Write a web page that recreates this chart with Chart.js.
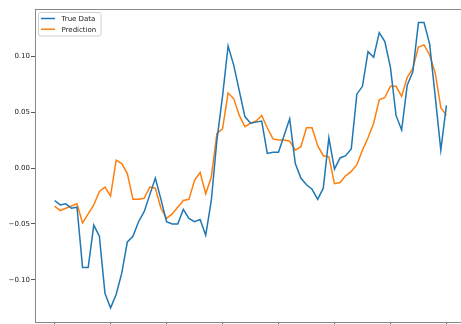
<!DOCTYPE html>
<html>
<head>
<meta charset="utf-8">
<script src="https://cdn.jsdelivr.net/npm/chart.js@4/dist/chart.umd.min.js"></script>
<style>
    html, body { margin: 0; padding: 0; background: #fff; overflow: hidden; }
    canvas { display: block; }
</style>
</head>
<body>
<canvas id="graficoPrediccion" width="467" height="324"></canvas>
<script>
// time step index (0..70)
const steps = Array.from({ length: 71 }, (_, i) => i);

// --- values ---
const trueData = [
    -0.029, -0.033, -0.032, -0.036, -0.035, -0.089, -0.089, -0.051, -0.061, -0.112,
    -0.125, -0.113, -0.094, -0.066, -0.061, -0.048, -0.039, -0.024, -0.009, -0.028,
    -0.048, -0.050, -0.050, -0.037, -0.045, -0.048, -0.046, -0.060, -0.029, 0.025,
    0.064, 0.109, 0.092, 0.069, 0.046, 0.040, 0.041, 0.042, 0.013, 0.014,
    0.014, 0.029, 0.044, 0.004, -0.009, -0.015, -0.019, -0.028, -0.018, 0.027,
    -0.001, 0.009, 0.011, 0.017, 0.066, 0.073, 0.104, 0.099, 0.121, 0.113,
    0.090, 0.047, 0.034, 0.074, 0.086, 0.130, 0.130, 0.111, 0.064, 0.016,
    0.056
];
const prediction = [
    -0.034, -0.038, -0.036, -0.034, -0.032, -0.049, -0.041, -0.033, -0.021, -0.017,
    -0.025, 0.007, 0.004, -0.005, -0.028, -0.028, -0.027, -0.017, -0.018, -0.036,
    -0.045, -0.041, -0.035, -0.029, -0.028, -0.011, -0.004, -0.023, -0.008, 0.031,
    0.035, 0.067, 0.062, 0.047, 0.037, 0.040, 0.042, 0.047, 0.036, 0.026,
    0.025, 0.025, 0.024, 0.016, 0.019, 0.036, 0.036, 0.020, 0.011, 0.010,
    -0.014, -0.013, -0.007, -0.003, 0.003, 0.016, 0.027, 0.040, 0.061, 0.063,
    0.073, 0.073, 0.064, 0.081, 0.089, 0.108, 0.110, 0.101, 0.085, 0.054,
    0.047
];
const seriesNames = ['True Data', 'Prediction'];
const xTicks = [0, 10, 20, 30, 40, 50, 60, 70];
const yTicks = [-0.10, -0.05, 0.00, 0.05, 0.10];

const FUENTE = 'DejaVu Sans';

// marco superior/derecho (estilo matplotlib)
const marcoPlugin = {
    id: 'marco',
    afterDraw(chart) {
        const { ctx, chartArea } = chart;
        ctx.save();
        ctx.strokeStyle = '#888';
        ctx.lineWidth = 1;
        ctx.beginPath();
        ctx.moveTo(chartArea.left, chartArea.top + 0.5);
        ctx.lineTo(chartArea.right, chartArea.top + 0.5);
        ctx.lineTo(chartArea.right, chartArea.bottom);
        ctx.stroke();
        ctx.restore();
    }
};

// leyenda dentro del área, arriba a la izquierda
const leyendaPlugin = {
    id: 'leyenda',
    afterDraw(chart) {
        const { ctx, chartArea } = chart;
        const x0 = chartArea.left + 3.5, y0 = chartArea.top + 3.5;
        const w = 62.5, h = 23.5;
        ctx.save();
        ctx.fillStyle = 'rgba(255,255,255,0.8)';
        ctx.strokeStyle = '#d0d0d0';
        ctx.lineWidth = 1;
        ctx.beginPath();
        ctx.roundRect(x0, y0, w, h, 2);
        ctx.fill();
        ctx.stroke();
        ctx.font = '7px "' + FUENTE + '"';
        ctx.textBaseline = 'middle';
        chart.data.datasets.forEach((ds, i) => {
            const yy = y0 + 6 + i * 10.7;
            ctx.strokeStyle = ds.borderColor;
            ctx.lineWidth = 1.5;
            ctx.beginPath();
            ctx.moveTo(x0 + 2.5, yy);
            ctx.lineTo(x0 + 16.5, yy);
            ctx.stroke();
            ctx.fillStyle = '#222';
            ctx.fillText(ds.label, x0 + 23, yy + 0.5);
        });
        ctx.restore();
    }
};

const ctx = document.getElementById('graficoPrediccion');
new Chart(ctx, {
    type: 'line',
    data: {
        datasets: [
            {
                label: seriesNames[0],
                data: steps.map((s, i) => ({ x: s, y: trueData[i] })),
                borderColor: '#1f77b4',
                borderWidth: 1.5,
                pointRadius: 0,
                tension: 0,
                fill: false
            },
            {
                label: seriesNames[1],
                data: steps.map((s, i) => ({ x: s, y: prediction[i] })),
                borderColor: '#ff7f0e',
                borderWidth: 1.5,
                pointRadius: 0,
                tension: 0,
                fill: false
            }
        ]
    },
    options: {
        responsive: false,
        animation: false,
        devicePixelRatio: 1,
        layout: { padding: { top: 9, left: 0, right: 1, bottom: 0 } },
        plugins: {
            legend: { display: false },
            tooltip: { enabled: false }
        },
        scales: {
            x: {
                type: 'linear',
                min: -3.5,
                max: 73.5,
                afterBuildTicks: (s) => { s.ticks = xTicks.map(v => ({ value: v })); },
                afterFit: (s) => { s.height = 2; s.paddingLeft = 0; s.paddingRight = 0; },
                ticks: { display: false },
                grid: { drawOnChartArea: false, drawTicks: true, tickLength: 4, color: '#555' },
                border: { display: true, color: '#888', width: 1 }
            },
            y: {
                type: 'linear',
                min: -0.1376,
                max: 0.1421,
                afterBuildTicks: (s) => { s.ticks = yTicks.map(v => ({ value: v })); },
                afterFit: (s) => { s.width = 35; s.paddingTop = 0; s.paddingBottom = 0; },
                ticks: {
                    padding: 1,
                    color: '#222',
                    font: { family: FUENTE, size: 7 },
                    callback: (v) => (v < -1e-9 ? '\u2212' : '') + Math.abs(v).toFixed(2)
                },
                grid: { drawOnChartArea: false, drawTicks: true, tickLength: 4, color: '#555' },
                border: { display: true, color: '#888', width: 1 }
            }
        }
    },
    plugins: [marcoPlugin, leyendaPlugin]
});
</script>
</body>
</html>
